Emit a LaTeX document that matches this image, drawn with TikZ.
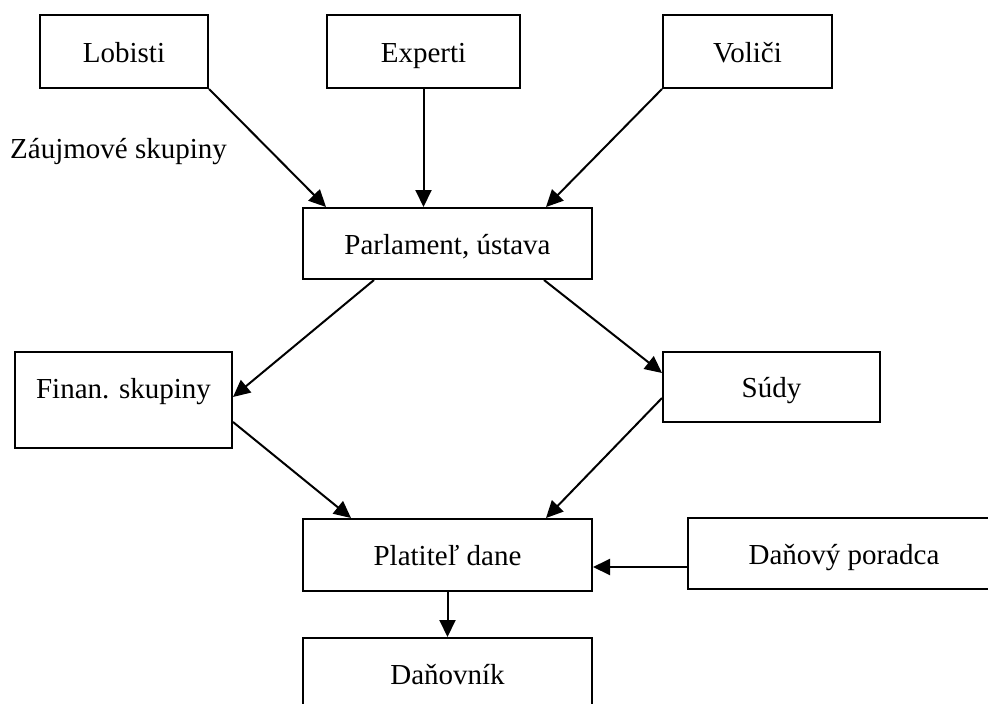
\documentclass[tikz,border=0pt]{standalone}
\usepackage{fontspec}
\setmainfont{Liberation Serif}
\usetikzlibrary{arrows.meta}
\begin{document}
\begin{tikzpicture}[x=1pt,y=-1pt,
  box/.style={draw, line width=2pt, rectangle, inner sep=0pt, text height=21pt, text depth=0pt},
  lbl/.style={inner sep=0pt},
  arr/.style={line width=2pt, -{Triangle[length=17pt,width=16pt]}},
  every node/.append style={font=\fontsize{29}{34}\selectfont}]
\useasboundingbox (0,0) rectangle (988,704);
\clip (0,0) rectangle (988,704);
\node[box, minimum width=168pt, minimum height=73pt] (lob) at (124,51.5) {Lobisti};
\node[box, minimum width=193pt, minimum height=73pt] (exp) at (423.5,51.5) {Experti};
\node[box, minimum width=169pt, minimum height=73pt] (vol) at (747.5,51.5) {Voliči};
\node[lbl, anchor=base west] (zaj) at (10,158) {Záujmové skupiny};
\node[box, minimum width=289pt, minimum height=71pt] (par) at (447.5,243.5) {Parlament, ústava};
\node[box, minimum width=217pt, minimum height=96pt, text depth=25pt] (fin) at (123.5,400) {Finan. skupiny};
\node[box, minimum width=217pt, minimum height=70pt] (sud) at (771.5,387) {Súdy};
\node[box, minimum width=289pt, minimum height=72pt] (pla) at (447.5,555) {Platiteľ dane};
\node[box, minimum width=332pt, minimum height=71pt] (dpo) at (854,553.5) {\hspace*{-20pt}Daňový poradca};
\node[box, minimum width=289pt, minimum height=72pt] (dan) at (447.5,674) {Daňovník};

\draw[arr] (lob.south east) -- ([xshift=24pt]par.north west);
\draw[arr] (exp.south) -- (exp.south |- par.north);
\draw[arr] (vol.south west) -- ([xshift=-47pt]par.north east);
\draw[arr] ([xshift=72pt]par.south west) -- ([yshift=3pt]fin.east);
\draw[arr] ([xshift=-49pt]par.south east) -- ([yshift=14pt]sud.west);
\draw[arr] ([yshift=-22pt]fin.east) -- ([xshift=49pt]pla.north west);
\draw[arr] ([yshift=-11pt]sud.west) -- ([xshift=-47pt]pla.north east);
\coordinate (pe) at ([yshift=-12pt]pla.east);
\draw[arr] (pe -| dpo.west) -- (pe);
\draw[arr] (pla.south) -- (dan.north);
\end{tikzpicture}
\end{document}
